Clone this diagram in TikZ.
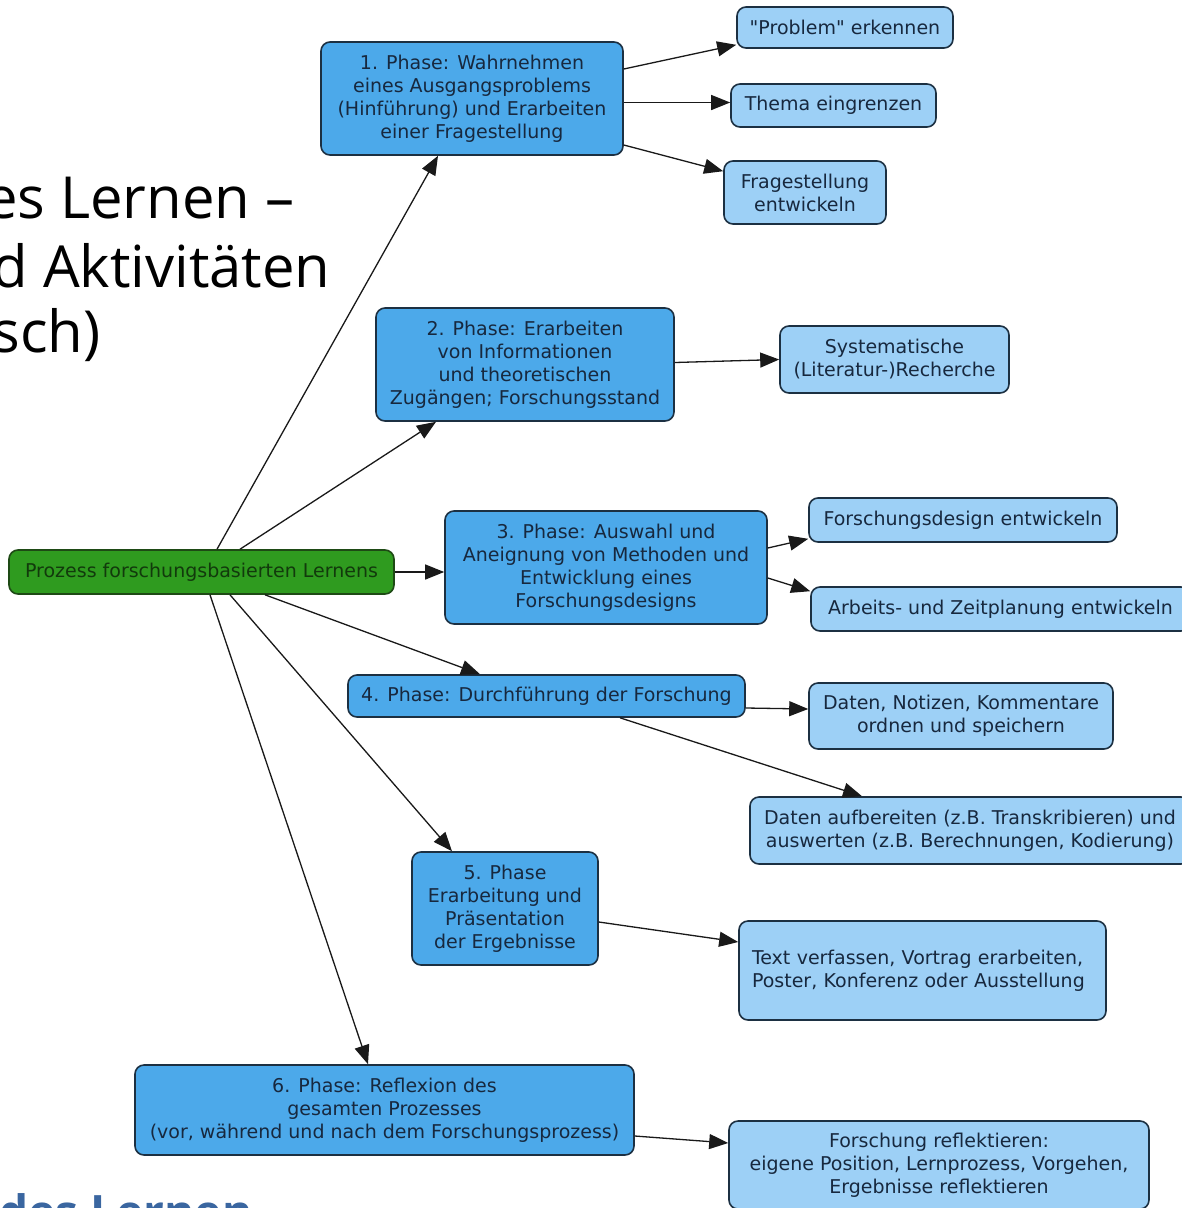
\documentclass[tikz,border=0pt]{standalone}
\usepackage{fontspec}
\usetikzlibrary{arrows.meta}
\newfontfamily\boxfont{DejaVu Sans}
\newfontfamily\headfont{Open Sans}
\definecolor{phasefill}{HTML}{4CA9EA}
\definecolor{subfill}{HTML}{9DD0F6}
\definecolor{boxline}{HTML}{1C3042}
\definecolor{boxtext}{HTML}{17283E}
\definecolor{rootfill}{HTML}{2F9B1F}
\definecolor{rootline}{HTML}{1E4A15}
\definecolor{roottext}{HTML}{123A0C}
\definecolor{headblue}{HTML}{3A66A0}
\tikzset{
  basebox/.style={draw=boxline, line width=1.6pt, rounded corners=9pt,
    inner sep=0pt, align=center, text=boxtext,
    font=\boxfont\fontsize{19}{23}\selectfont},
  phase/.style={basebox, fill=phasefill},
  sub/.style={basebox, fill=subfill},
  root/.style={basebox, fill=rootfill, draw=rootline, text=roottext},
  arr/.style={line width=1.3pt, draw=black!90, -{Triangle[length=19pt,width=15pt]}},
  wh/.style 2 args={minimum width=#1pt, minimum height=#2pt}
}
\begin{document}
\begin{tikzpicture}[x=1pt, y=-1pt]
\useasboundingbox (0,0) rectangle (1182,1208);
\clip (0,0) rectangle (1182,1208);
\fill[white] (0,0) rectangle (1182,1208);

% title fragments
\node[anchor=base east, font=\headfont\fontsize{58}{70}\selectfont] (t1) at (298,218) {es Lernen –};
\node[anchor=base east, font=\headfont\fontsize{58}{70}\selectfont] (t2) at (334,287) {d Aktivitäten};
\node[anchor=base east, font=\headfont\fontsize{58}{70}\selectfont] (t3) at (104,352) {sch)};
\node[anchor=base west, font=\headfont\bfseries\fontsize{46}{56}\selectfont, text=headblue] (t4) at (-4,1228) {des Lernen};

% root
\node[root, wh={385}{44}] (g) at (201.5,572) {Prozess forschungsbasierten Lernens};

% phases
\node[phase, wh={302}{113}] (p1) at (472,98.5) {1. Phase: Wahrnehmen\\eines Ausgangsproblems\\(Hinführung) und Erarbeiten\\einer Fragestellung};
\node[phase, wh={298}{113}] (p2) at (525,364.5) {2. Phase: Erarbeiten\\von Informationen\\und theoretischen\\Zugängen; Forschungsstand};
\node[phase, wh={322}{113}] (p3) at (606,567.5) {3. Phase: Auswahl und\\Aneignung von Methoden und\\Entwicklung eines\\Forschungsdesigns};
\node[phase, wh={397}{42}] (p4) at (546.5,696) {4. Phase: Durchführung der Forschung};
\node[phase, wh={186}{113}] (p5) at (505,908.5) {5. Phase\\Erarbeitung und\\Präsentation\\der Ergebnisse};
\node[phase, wh={499}{90}] (p6) at (384.5,1110) {6. Phase: Reflexion des\\gesamten Prozesses\\(vor, während und nach dem Forschungsprozess)};

% activities
\node[sub, wh={216}{41}] (prob) at (845,27.5) {"Problem" erkennen};
\node[sub, wh={205}{43}] (th) at (833.5,105.5) {Thema eingrenzen};
\node[sub, wh={162}{63}] (fr) at (805,192.5) {Fragestellung\\entwickeln};
\node[sub, wh={229}{67}] (sy) at (894.5,359.5) {Systematische\\(Literatur-)Recherche};
\node[sub, wh={308}{44}] (fd) at (963,520) {Forschungsdesign entwickeln};
\node[sub, wh={379}{44}] (az) at (1000.5,609) {Arbeits- und Zeitplanung entwickeln};
\node[sub, wh={304}{66}] (dn) at (961,716) {Daten, Notizen, Kommentare\\ordnen und speichern};
\node[sub, wh={440}{67}] (da) at (970,830.5) {Daten aufbereiten (z.B. Transkribieren) und\\auswerten (z.B. Berechnungen, Kodierung)};
\node[sub, wh={367}{99}, align=left, text width=341pt] (tv) at (922.5,970.5) {Text verfassen, Vortrag erarbeiten,\\Poster, Konferenz oder Ausstellung};
\node[sub, wh={420}{88}] (rf) at (939,1165) {Forschung reflektieren:\\eigene Position, Lernprozess, Vorgehen,\\Ergebnisse reflektieren};

% root to phases
\draw[arr] ([xshift=15.5pt]g.north) -- ([xshift=-34pt]p1.south);
\draw[arr] ([xshift=38.5pt]g.north) -- ([xshift=-89pt]p2.south);
\draw[arr] (g.east) -- (g.east -| p3.west);
\draw[arr] ([xshift=63.5pt]g.south) -- ([xshift=-66.5pt]p4.north);
\draw[arr] ([xshift=28.5pt]g.south) -- ([xshift=-53pt]p5.north);
\draw[arr] ([xshift=8.5pt]g.south) -- ([xshift=-16.5pt]p6.north);

% phases to activities
\draw[arr] ([yshift=29.5pt]p1.east) -- ([yshift=4pt]prob.south west);
\draw[arr] ([yshift=-4pt]p1.east) -- ([yshift=-4pt]p1.east -| th.west);
\draw[arr] ([yshift=-46.5pt]p1.east) -- ([yshift=-11pt]fr.north west);
\draw[arr] ([yshift=2pt]p2.east) -- (sy.west);
\draw[arr] ([yshift=19.5pt]p3.east) -- ([yshift=4pt]fd.south west);
\draw[arr] ([yshift=-10.5pt]p3.east) -- ([yshift=-5pt]az.north west);
\draw[arr] ([yshift=-12pt]p4.east) -- ([yshift=7pt]dn.west);
\draw[arr] ([xshift=73.5pt]p4.south) -- ([xshift=-108pt]da.north);
\draw[arr] ([yshift=-13.5pt]p5.east) -- ([yshift=28.5pt]tv.west);
\draw[arr] ([yshift=-26pt]p6.east) -- ([yshift=22pt]rf.west);
\end{tikzpicture}
\end{document}
